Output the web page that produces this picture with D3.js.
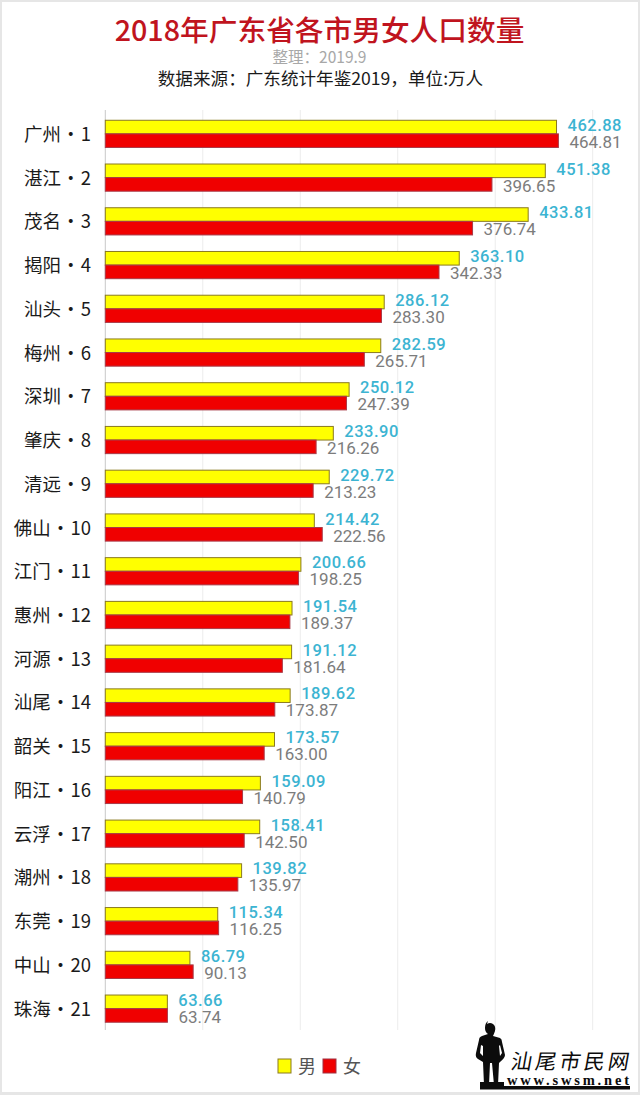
<!DOCTYPE html>
<html><head><meta charset="utf-8">
<script src="https://cdn.jsdelivr.net/npm/d3@7/dist/d3.min.js"></script>
<style>html,body{margin:0;padding:0;background:#fff}svg{display:block}text{font-family:"Noto Sans CJK SC","Noto Sans",sans-serif}</style>
</head><body><div id="c"></div>
<script>
const cities=["广州","湛江","茂名","揭阳","汕头","梅州","深圳","肇庆","清远","佛山","江门","惠州","河源","汕尾","韶关","阳江","云浮","潮州","东莞","中山","珠海"];
const male=[462.88,451.38,433.81,363.10,286.12,282.59,250.12,233.90,229.72,214.42,200.66,191.54,191.12,189.62,173.57,159.09,158.41,139.82,115.34,86.79,63.66];
const female=[464.81,396.65,376.74,342.33,283.30,265.71,247.39,216.26,213.23,222.56,198.25,189.37,181.64,173.87,163.00,140.79,142.50,135.97,116.25,90.13,63.74];
const xTicks=[0,100,200,300,400,500];
const legendItems=[["男","#ffff00","#8a7a20"],["女","#f00000","#a03040"]];

const W=640,H=1095;
const svg=d3.select("#c").append("svg").attr("width",W).attr("height",H);
svg.append("rect").attr("width",W).attr("height",H).attr("fill","#e6e6e6");
svg.append("rect").attr("x",2).attr("y",2).attr("width",W-4).attr("height",H-5).attr("fill","#fff");

const x=d3.scaleLinear().domain([0,500]).range([105.3,592.7]);
const yOuter=d3.scaleBand().domain(d3.range(cities.length)).range([112,1030.5]);

const g=svg.append("g");
g.selectAll("line.grid").data(xTicks).join("line").attr("class","grid")
 .attr("x1",d=>x(d)).attr("x2",d=>x(d)).attr("y1",110).attr("y2",1030)
 .attr("stroke",d=>d===0?"#c8c8c8":"#ececec").attr("stroke-width",1);

const barH=13.6;
const rows=g.selectAll("g.row").data(cities).join("g").attr("class","row")
 .attr("transform",(d,i)=>`translate(0,${yOuter(i)+yOuter.bandwidth()/2})`);
rows.append("rect").attr("x",x(0)).attr("y",-barH).attr("width",(d,i)=>x(male[i])-x(0)).attr("height",barH)
 .attr("fill","#ffff00").attr("stroke","#8a7a20").attr("stroke-width",1);
rows.append("rect").attr("x",x(0)).attr("y",0).attr("width",(d,i)=>x(female[i])-x(0)).attr("height",barH)
 .attr("fill","#f00000").attr("stroke","#a83a48").attr("stroke-width",1);
rows.append("text").attr("x",(d,i)=>x(male[i])+11).attr("y",-3).attr("fill","#3cb4d2")
 .style("font-family","Roboto").attr("font-size",16.5).attr("font-weight",500).attr("letter-spacing",0.5).text((d,i)=>male[i].toFixed(2));
rows.append("text").attr("x",(d,i)=>x(female[i])+11).attr("y",14).attr("fill","#7c7c7c")
 .style("font-family","Roboto").attr("font-size",17).text((d,i)=>female[i].toFixed(2));
rows.append("text").attr("x",91).attr("y",7).attr("text-anchor","end").attr("fill","#1a1a1a")
 .attr("font-size",18.5).attr("word-spacing",-3.5).text((d,i)=>`${d} · ${i+1}`);

svg.append("text").attr("x",319.5).attr("y",40.5).attr("text-anchor","middle").attr("fill","#c0141e")
 .attr("font-size",28.7).attr("font-weight",500).text("2018年广东省各市男女人口数量");
svg.append("text").attr("x",319.5).attr("y",63).attr("text-anchor","middle").attr("fill","#a8a8a8")
 .attr("font-size",15.5).text("整理：2019.9");
svg.append("text").attr("x",320.5).attr("y",84.5).attr("text-anchor","middle").attr("fill","#1a1a1a")
 .attr("font-size",17.6).text("数据来源：广东统计年鉴2019，单位:万人");

const lg=svg.append("g").selectAll("g").data(legendItems).join("g")
 .attr("transform",(d,i)=>`translate(${278+i*45},1059)`);
lg.append("rect").attr("width",13).attr("height",14).attr("fill",d=>d[1]).attr("stroke",d=>d[2]);
lg.append("text").attr("x",20).attr("y",14).attr("font-size",18).attr("fill","#555").text(d=>d[0]);

// watermark
const wm=svg.append("g");
wm.append("path").attr("fill","#0c0c0c").attr("fill-rule","evenodd").attr("d","M487 1024q3-2 6 0q3 2 2 7q-1 3-2 5l7 2q2 1 2 4l3 13q0 3-5 7l-1 1-1 22h-4l-2-22h-2l-1 22h-5l-1-23-5-3q-3-2-2-6l3-13q0-3 3-4l6-2q-3-2-3-6q0-5 3-7zM481 1045l-1 8 3 3 0-10zM499 1046l1 10 2-3-2-8z");
wm.append("rect").attr("x",480).attr("y",1086).attr("width",150).attr("height",3.5).attr("fill","#0c0c0c");
wm.append("rect").attr("x",480).attr("y",1082).attr("width",24).attr("height",4).attr("fill","#0c0c0c");
wm.append("text").attr("transform","translate(510,1069) skewX(-10)").attr("font-size",21).attr("fill","#0c0c0c")
 .attr("textLength",118).text("汕尾市民网");
wm.append("text").attr("x",507).attr("y",1085).attr("font-size",14.5).attr("font-weight",700).attr("fill","#0c0c0c")
 .style("font-family","'Liberation Serif',serif").attr("textLength",122).text("www.swsm.net");
</script></body></html>
